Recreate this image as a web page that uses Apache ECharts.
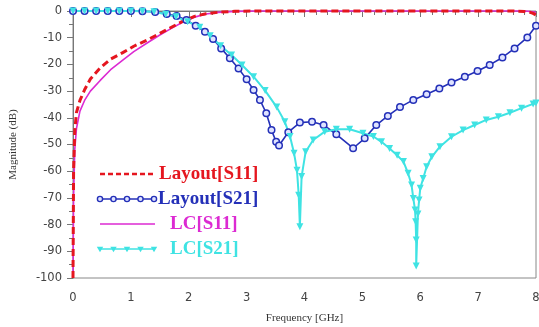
<!DOCTYPE html>
<html>
<head>
<meta charset="utf-8">
<script src="https://cdn.jsdelivr.net/npm/echarts@6/dist/echarts.min.js"></script>
<style>
  html, body { margin: 0; padding: 0; background: #fff; }
  #chart { width: 539px; height: 327px; }
</style>
</head>
<body>
<div id="chart"></div>
<script>
// frequency [GHz], magnitude [dB]
const layoutS11 = [
  [0, -100], [0.01, -60], [0.03, -45], [0.06, -38], [0.12, -33.5], [0.2, -29.5],
  [0.3, -25.5], [0.47, -21.3], [0.65, -18], [0.86, -15.6], [1.05, -13.2], [1.28, -10.9],
  [1.5, -8.4], [1.7, -6.1], [1.9, -3.8], [2.1, -2], [2.3, -1], [2.5, -0.5], [2.8, -0.1],
  [3.2, 0], [5, 0], [7.6, 0], [7.8, -0.2], [7.9, -0.5], [7.95, -0.9], [8, -1.5]
]
const lcS11 = [
  [0, -100], [0.01, -70], [0.03, -52], [0.06, -44], [0.12, -37.5], [0.2, -33.5],
  [0.3, -30], [0.47, -26], [0.65, -22], [0.86, -18.4], [1.05, -15.2], [1.28, -12],
  [1.5, -9], [1.7, -6.5], [1.9, -4.1], [2.1, -2.3], [2.3, -1.1], [2.5, -0.5], [2.8, -0.15],
  [3.2, 0], [5, 0], [7.8, 0], [7.95, -0.3], [8, -0.6]
]
const layoutS21 = [
  [0, 0], [0.2, 0], [0.4, 0], [0.6, 0], [0.8, 0], [1.0, 0], [1.2, -0.1], [1.42, -0.4],
  [1.62, -1.1], [1.79, -1.9], [1.96, -3.4], [2.12, -5.5], [2.28, -7.8], [2.42, -10.5],
  [2.56, -14], [2.71, -17.7], [2.86, -21.5], [3.0, -25.6], [3.12, -29.6], [3.23, -33.3],
  [3.34, -38.3], [3.43, -44.6], [3.51, -49], [3.56, -50.4], [3.72, -45.4], [3.92, -41.8],
  [4.13, -41.5], [4.33, -42.7], [4.55, -46.2], [4.84, -51.4], [5.04, -47.7], [5.24, -42.7],
  [5.44, -39.3], [5.65, -36], [5.88, -33.3], [6.11, -31.2], [6.33, -29], [6.54, -26.8],
  [6.77, -24.6], [6.99, -22.5], [7.2, -20.2], [7.42, -17.4], [7.63, -14], [7.85, -9.9],
  [8, -5.5]
]
const lcS21 = [
  [0, 0], [0.2, 0], [0.4, 0], [0.6, 0], [0.8, 0], [1.0, 0], [1.2, -0.1], [1.4, -0.3],
  [1.6, -1.2], [1.78, -2.2], [1.98, -4], [2.19, -6.1], [2.37, -9.3], [2.55, -13],
  [2.74, -16.5], [2.92, -20.2], [3.12, -24.6], [3.32, -29.8], [3.52, -36], [3.66, -41.5],
  [3.75, -47], [3.82, -53.3], [3.87, -59.6], [3.9, -69], [3.92, -80.8], [3.95, -62],
  [4.02, -52.7], [4.15, -48.3], [4.35, -45.2], [4.55, -44.3], [4.78, -44.3], [5.01, -45.8],
  [5.19, -47], [5.33, -49], [5.47, -51.5], [5.6, -54], [5.71, -56.4], [5.79, -60.8],
  [5.85, -65.2], [5.88, -70.2], [5.91, -74.5], [5.92, -78.9], [5.93, -85.8], [5.93, -95.5],
  [5.96, -76], [5.98, -70.8], [6.0, -66.4], [6.05, -62.7], [6.11, -58.3], [6.2, -54.6],
  [6.34, -50.8], [6.54, -47.1], [6.74, -44.6], [6.94, -42.7], [7.14, -40.8], [7.35, -39.6],
  [7.55, -38.1], [7.75, -36.4], [7.95, -34.8], [8, -34.5]
]
const seriesNames = ['Layout[S11]', 'Layout[S21]', 'LC[S11]', 'LC[S21]']
const xTicks = [0, 1, 2, 3, 4, 5, 6, 7, 8]

const red = '#e5161f'
const blue = '#2430b8'
const magenta = '#dc2ad2'
const cyan = '#3fe3e3'

const chart = echarts.init(document.getElementById('chart'))

// legend drawn by hand: sample line + markers + text
function legendRow(y, name, color, kind, textX) {
  const children = [{
    type: 'line',
    shape: {x1: 100, y1: y, x2: 155, y2: y},
    style: {stroke: color, lineWidth: kind === 'dash' ? 2.5 : 1.5, lineDash: kind === 'dash' ? [5, 3] : null}
  }]
  if (kind === 'circle' || kind === 'tri') {
    for (let i = 0; i < 5; i++) {
      const cx = 100 + i * 13.5
      if (kind === 'circle') {
        children.push({type: 'circle', shape: {cx: cx, cy: y, r: 2.6},
          style: {fill: '#dfe3ff', stroke: color, lineWidth: 1.4}})
      } else {
        children.push({type: 'polygon', shape: {points: [[cx - 3.2, y - 2.3], [cx + 3.2, y - 2.3], [cx, y + 3.2]]},
          style: {fill: color}})
      }
    }
  }
  children.push({
    type: 'text', x: textX, y: y, style: {
      text: name, fill: color, font: 'bold 19px "Liberation Serif"', verticalAlign: 'middle'
    }
  })
  return {type: 'group', children: children}
}

chart.setOption({
  animation: false,
  grid: {
    left: 73, right: 3, top: 11, bottom: 49,
    outerBoundsMode: 'none', containLabel: false,
    show: true, borderColor: '#888', borderWidth: 1
  },
  xAxis: {
    type: 'value', min: 0, max: 8, interval: 1,
    name: 'Frequency [GHz]', nameLocation: 'middle', nameGap: 35,
    nameTextStyle: {fontFamily: 'Liberation Serif', fontSize: 11, color: '#333'},
    axisLine: {lineStyle: {color: '#777'}},
    axisTick: {length: 6, lineStyle: {color: '#777'}},
    minorTick: {show: true, splitNumber: 5, length: 4, lineStyle: {color: '#777'}},
    splitLine: {show: false},
    axisLabel: {
      margin: 14, fontFamily: 'DejaVu Sans', fontSize: 11.5, color: '#444',
      formatter: v => xTicks.indexOf(v) >= 0 ? String(v) : ''
    }
  },
  yAxis: {
    type: 'value', min: -100, max: 0, interval: 10,
    name: 'Magnitude (dB)', nameLocation: 'middle', nameGap: 54,
    nameTextStyle: {fontFamily: 'Liberation Serif', fontSize: 11, color: '#333'},
    axisLine: {show: true, lineStyle: {color: '#777'}},
    axisTick: {show: true, length: 6, lineStyle: {color: '#777'}},
    minorTick: {show: true, splitNumber: 2, length: 4, lineStyle: {color: '#777'}},
    splitLine: {show: false},
    axisLabel: {margin: 11, fontFamily: 'DejaVu Sans', fontSize: 11.5, color: '#444'}
  },
  series: [
    {
      name: seriesNames[2], type: 'line', data: lcS11, symbol: 'none', clip: false,
      lineStyle: {color: magenta, width: 1.6}
    },
    {
      name: seriesNames[1], type: 'line', data: layoutS21, clip: false,
      symbol: 'circle', symbolSize: 6.5,
      lineStyle: {color: blue, width: 1.6},
      itemStyle: {color: '#dfe3ff', borderColor: blue, borderWidth: 1.5}
    },
    {
      name: seriesNames[0], type: 'line', data: layoutS11, symbol: 'none', clip: false,
      lineStyle: {color: red, width: 3, type: [7, 4]}
    },
    {
      name: seriesNames[3], type: 'line', data: lcS21, clip: false,
      symbol: 'triangle', symbolRotate: 180, symbolSize: 7,
      lineStyle: {color: cyan, width: 2},
      itemStyle: {color: cyan}
    }
  ],
  graphic: [
    legendRow(174, seriesNames[0], red, 'dash', 159),
    legendRow(199, seriesNames[1], blue, 'circle', 158),
    legendRow(224, seriesNames[2], magenta, 'line', 170),
    legendRow(249, seriesNames[3], cyan, 'tri', 170)
  ]
})
</script>
</body>
</html>
